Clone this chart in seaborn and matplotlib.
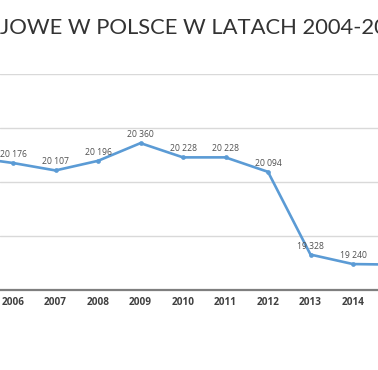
import matplotlib
matplotlib.use("Agg")
import matplotlib.pyplot as plt
import seaborn as sns
import pandas as pd

# Data (2005 and 2015 only partially visible at the cropped edges; estimated)
years = [2005, 2006, 2007, 2008, 2009, 2010, 2011, 2012, 2013, 2014, 2015]
values = [20230, 20176, 20107, 20196, 20360, 20228, 20228, 20094, 19328, 19240, 19235]
value_labels = ["20 230", "20 176", "20 107", "20 196", "20 360", "20 228", "20 228",
                "20 094", "19 328", "19 240", "19 235"]
title_text = "JOWE W POLSCE W LATACH 2004-20"
tick_years = [2006, 2007, 2008, 2009, 2010, 2011, 2012, 2013, 2014]

df = pd.DataFrame({"rok": years, "wartosc": values})

sns.set_style("white")
plt.rcParams["font.family"] = ["Open Sans", "DejaVu Sans"]

W, H = 378, 370
fig = plt.figure(figsize=(W / 100, H / 100), dpi=100)
ax = fig.add_axes([0, (H - 290) / H, 1, 216 / H])

sns.lineplot(data=df, x="rok", y="wartosc", ax=ax, color="#5b9bd5",
             linewidth=1.9, marker="o", markersize=3.4, markeredgewidth=0,
             legend=False)

xmin, xmax = 2006 - 13 / 42.5, 2014 + 25 / 42.5
ax.set_xlim(xmin, xmax)
ax.set_ylim(19000, 21000)
ax.set_yticks([19000, 19500, 20000, 20500, 21000])
ax.yaxis.grid(True, color="#d9d9d9", linewidth=1.0)
ax.xaxis.grid(False)
ax.set_axisbelow(True)
ax.set_yticklabels([])
ax.tick_params(axis="y", length=0)
ax.set_xticks(tick_years)
ax.set_xticklabels([str(y) for y in tick_years], fontsize=7.2,
                   fontweight="bold", color="#404040")
ax.tick_params(axis="x", length=0, pad=5)
ax.set_xlabel("")
ax.set_ylabel("")
for s in ["top", "left", "right"]:
    ax.spines[s].set_visible(False)
ax.spines["bottom"].set_color("#7f7f7f")
ax.spines["bottom"].set_linewidth(1.6)

for x, v, lab in zip(years, values, value_labels):
    if xmin < x < xmax:
        ax.annotate(lab, (x, v), xytext=(0, 6.1), textcoords="offset points",
                    ha="center", va="center", fontsize=6.2, color="#505050")

fig.text(0.0, 1 - 28 / H, title_text, ha="left", va="center",
         fontsize=15.8, color="#333333", family=["Lato", "DejaVu Sans"])

fig.savefig("out.png", dpi=100)
